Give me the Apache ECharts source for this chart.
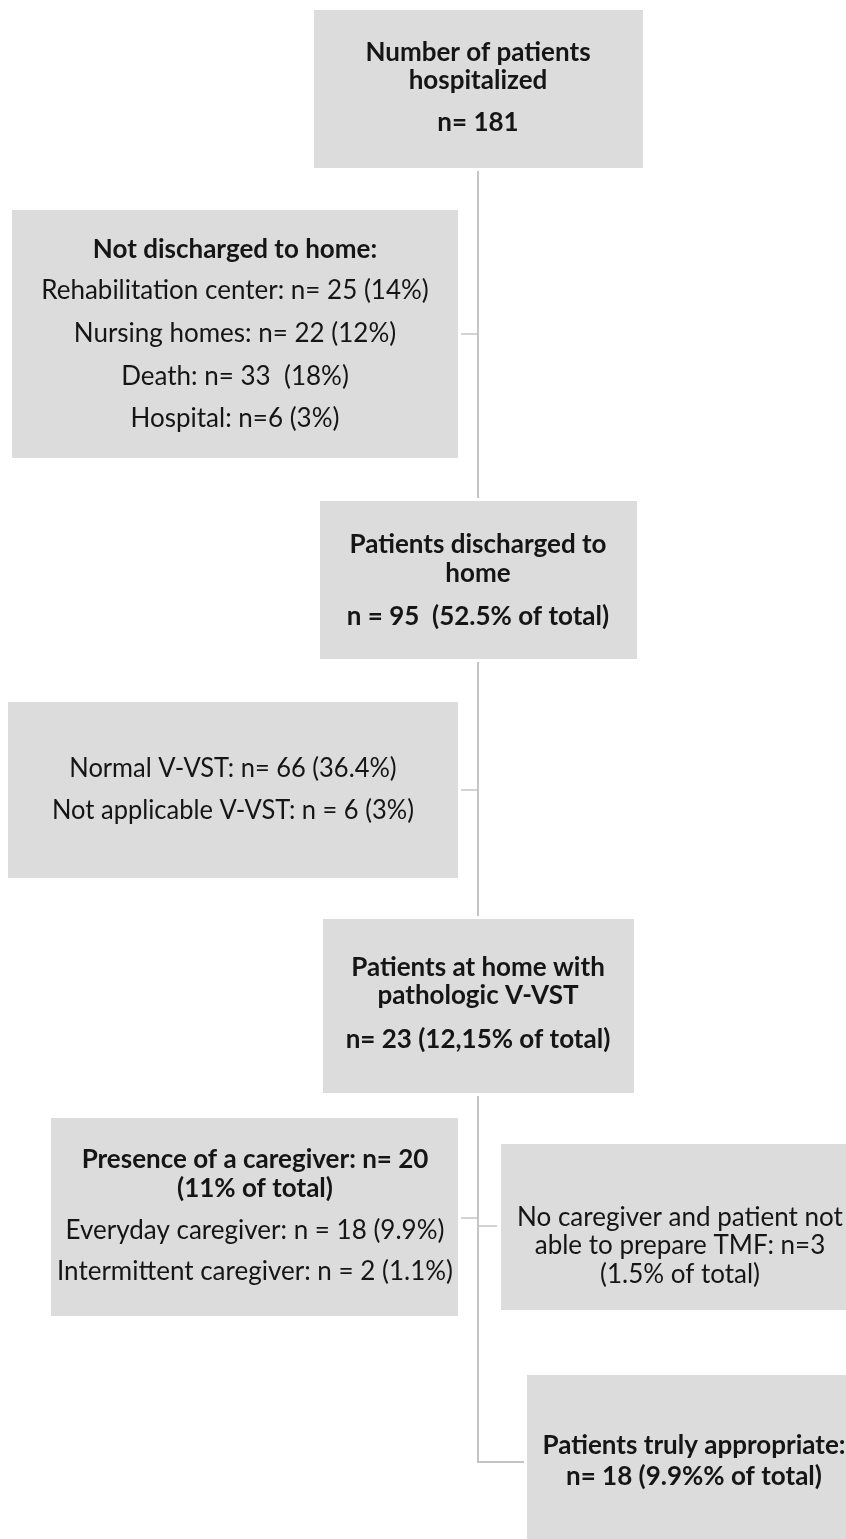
<!DOCTYPE html>
<html>
<head>
<meta charset="utf-8">
<script src="https://cdn.jsdelivr.net/npm/echarts@6/dist/echarts.min.js"></script>
<style>
html,body{margin:0;padding:0;background:#fff;}
#chart{width:846px;height:1539px;}
</style>
</head>
<body>
<div id="chart"></div>
<script>
// ---- texts of the flow boxes ----
const box1Text = ["Number of patients", "hospitalized", "n= 181"];
const box2Text = ["Not discharged to home:", "Rehabilitation center: n= 25 (14%)", "Nursing homes: n= 22 (12%)", "Death: n= 33  (18%)", "Hospital: n=6 (3%)"];
const box3Text = ["Patients discharged to", "home", "n = 95  (52.5% of total)"];
const box4Text = ["Normal V-VST: n= 66 (36.4%)", "Not applicable V-VST: n = 6 (3%)"];
const box5Text = ["Patients at home with", "pathologic V-VST", "n= 23 (12,15% of total)"];
const box6Text = ["Presence of a caregiver: n= 20", "(11% of total)", "Everyday caregiver: n = 18 (9.9%)", "Intermittent caregiver: n = 2 (1.1%)"];
const box7Text = ["No caregiver and patient not", "able to prepare TMF: n=3", "(1.5% of total)"];
const box8Text = ["Patients truly appropriate:", "n= 18 (9.9%% of total)"];

const boxTexts = [box1Text, box2Text, box3Text, box4Text, box5Text, box6Text, box7Text, box8Text];

// ---- layout (positions in page units) ----
const boxLayout = [
  {rect: [314, 10, 643, 168], cx: 478, ys: [53, 81, 123], bold: [1, 1, 1], sx: 1},
  {rect: [12, 210, 458, 458], cx: 235, ys: [250, 291, 334, 377, 419], bold: [1, 0, 0, 0, 0], sx: 1},
  {rect: [320, 501, 637, 659], cx: 478, ys: [545, 574, 617], bold: [1, 1, 1], sx: 1},
  {rect: [8, 702, 458, 878], cx: 233, ys: [769, 811], bold: [0, 0], sx: 0.98},
  {rect: [323, 919, 634, 1093], cx: 478, ys: [968, 996, 1040], bold: [1, 1, 1], sx: 1},
  {rect: [51, 1118, 458, 1316], cx: 255, ys: [1160, 1189, 1231, 1272], bold: [1, 1, 0, 0], sx: 1},
  {rect: [501, 1144, 870, 1310], cx: 680, ys: [1218, 1246, 1275], bold: [0, 0, 0], sx: 1},
  {rect: [527, 1375, 870, 1560], cx: 694, ys: [1446, 1477], bold: [1, 1], sx: 1}
];

const connectorLayout = [
  {pts: [[478, 171], [478, 498]], w: 2},
  {pts: [[461, 334], [478, 334]], w: 1.5},
  {pts: [[478, 662], [478, 916]], w: 2},
  {pts: [[461, 790], [478, 790]], w: 1.5},
  {pts: [[478, 1096], [478, 1462], [524, 1462]], w: 2},
  {pts: [[461, 1218], [478, 1218]], w: 1.5},
  {pts: [[478, 1226], [497, 1226]], w: 1.5}
];

const FONT_FAMILY = 'Lato, "Open Sans", sans-serif';
const FONT_SIZE = 26;

const chart = echarts.init(document.getElementById('chart'), null, {renderer: 'canvas'});

const option = {
  animation: false,
  backgroundColor: '#ffffff',
  grid: {left: 0, right: 0, top: 0, bottom: 0},
  xAxis: {type: 'value', min: 0, max: 846, show: false},
  yAxis: {type: 'value', min: 0, max: 1539, inverse: true, show: false},
  series: [
    {
      type: 'custom',
      coordinateSystem: 'cartesian2d',
      silent: true,
      z: 1,
      data: connectorLayout.map((c, i) => [c.pts[0][0], c.pts[0][1], i]),
      renderItem: function (params, api) {
        const c = connectorLayout[api.value(2)];
        return {
          type: 'polyline',
          shape: {points: c.pts.map(p => api.coord(p))},
          style: {stroke: '#c4c4c4', lineWidth: c.w, fill: null}
        };
      }
    },
    {
      type: 'custom',
      coordinateSystem: 'cartesian2d',
      silent: true,
      z: 2,
      data: boxLayout.map((b, i) => [b.rect[0], b.rect[1], i]),
      renderItem: function (params, api) {
        const idx = api.value(2);
        const b = boxLayout[idx];
        const lines = boxTexts[idx];
        const p0 = api.coord([b.rect[0], b.rect[1]]);
        const p1 = api.coord([b.rect[2], b.rect[3]]);
        const children = [{
          type: 'rect',
          shape: {x: p0[0], y: p0[1], width: p1[0] - p0[0], height: p1[1] - p0[1]},
          style: {fill: '#dcdcdc'}
        }];
        lines.forEach(function (t, j) {
          const pt = api.coord([b.cx, b.ys[j]]);
          children.push({
            type: 'text',
            x: pt[0], y: pt[1],
            scaleX: b.sx,
            style: {
              text: t,
              x: 0, y: 0,
              align: 'center',
              verticalAlign: 'middle',
              fill: '#151515',
              font: (b.bold[j] ? 'bold ' : 'normal ') + FONT_SIZE + 'px ' + FONT_FAMILY
            }
          });
        });
        return {type: 'group', children: children};
      }
    }
  ]
};
chart.setOption(option);
</script>
</body>
</html>
